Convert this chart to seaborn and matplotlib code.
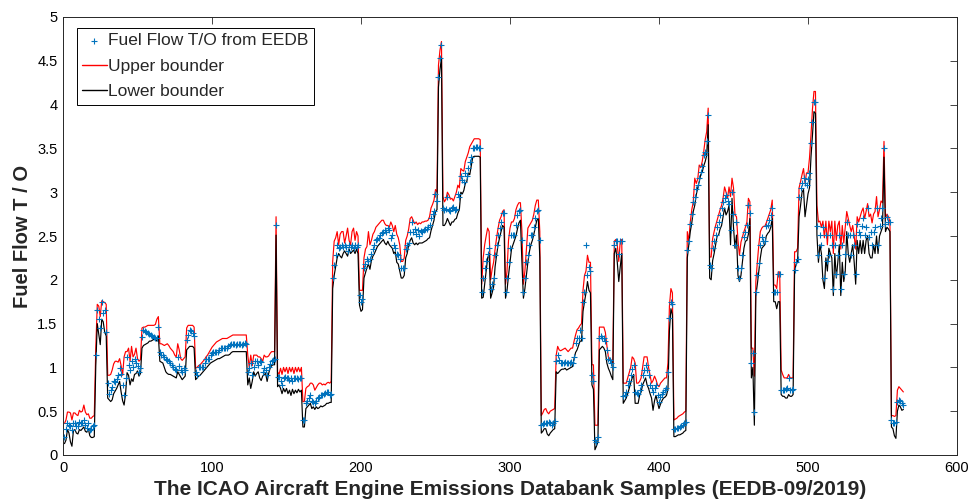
import numpy as np
import pandas as pd
import matplotlib
matplotlib.use("Agg")
import matplotlib.pyplot as plt
import seaborn as sns
from matplotlib.ticker import MultipleLocator, FuncFormatter

# ---------------- data ----------------
fuel_flow = [
    # 1-21
    0.21,0.30,0.36,0.34,0.33,0.29,0.36,0.37,0.33,0.33,0.38,0.36,0.36,0.40,0.34,0.31,0.37,0.28,0.30,0.33,0.34,
    # 22-29
    1.14,1.65,1.55,1.45,1.75,1.62,1.66,1.40,
    # 30-52
    0.82,0.70,0.74,0.78,0.84,0.83,0.87,0.91,0.99,0.93,0.80,0.68,0.88,1.12,1.03,0.97,1.07,1.00,1.10,1.05,1.02,0.95,0.99,
    # 53-64
    1.35,1.43,1.41,1.40,1.39,1.38,1.37,1.36,1.35,1.34,1.33,1.46,
    # 65-82
    1.18,1.14,1.14,1.12,1.10,1.08,1.07,1.05,1.03,1.01,0.98,0.97,1.12,1.02,0.97,0.95,0.99,0.97,
    # 83-88
    1.31,1.37,1.43,1.42,1.39,1.36,
    # 89-123
    0.95,0.91,1.00,1.01,1.01,1.01,1.05,1.10,1.10,1.10,1.14,1.17,1.18,1.18,1.18,1.18,1.20,1.22,1.22,1.22,
    1.22,1.22,1.24,1.26,1.27,1.27,1.27,1.26,1.27,1.27,1.27,1.26,1.27,1.28,1.27,
    # 124-142
    0.95,0.99,1.05,0.91,1.00,1.07,1.07,1.03,1.07,1.06,0.95,0.99,0.97,0.91,1.01,1.04,1.07,1.08,1.10,
    # 143
    2.63,
    # 144-160
    0.89,0.89,0.84,0.80,0.88,0.89,0.88,0.88,0.86,0.88,0.85,0.88,0.88,0.88,0.87,0.88,0.88,
    # 161-162
    0.40,0.40,
    # 163-180
    0.59,0.62,0.65,0.68,0.62,0.60,0.59,0.62,0.65,0.66,0.68,0.69,0.70,0.71,0.72,0.72,0.68,0.70,
    # 181-198
    2.02,2.17,2.28,2.40,2.36,2.38,2.40,2.37,2.40,2.38,2.33,2.40,2.38,2.40,2.36,2.40,2.38,2.40,
    # 199-201
    1.83,1.75,1.78,
    # 202-226
    2.13,2.18,2.24,2.22,2.24,2.30,2.35,2.40,2.45,2.47,2.48,2.51,2.53,2.55,2.57,2.55,2.59,2.57,2.48,2.51,
    2.40,2.36,2.30,2.28,2.24,
    # 227-229
    2.13,2.13,2.13,
    # 230-234
    2.35,2.40,2.42,2.55,2.66,
    # 235-246
    2.55,2.58,2.52,2.57,2.50,2.56,2.55,2.57,2.58,2.58,2.60,2.62,
    # 247-251
    2.70,2.75,2.78,2.98,2.90,
    # 252-254
    4.32,4.53,4.68,
    # 255-266
    2.82,2.80,2.81,2.95,2.80,2.78,2.82,2.83,2.80,2.81,2.98,2.95,
    # 267-274
    3.18,3.14,3.12,3.22,3.18,3.28,3.35,3.40,
    # 275-280
    3.50,3.51,3.52,3.52,3.51,3.50,
    # 281-320
    1.86,2.02,2.13,2.22,2.30,2.36,
    1.90,1.95,2.02,2.28,2.40,2.51,2.59,2.66,2.76,2.76,
    1.86,2.02,2.20,2.36,2.51,2.51,2.51,2.62,2.74,2.78,2.80,2.45,
    1.86,2.02,2.20,2.28,2.40,2.51,2.51,2.60,2.70,2.78,2.80,2.45,
    # 321-330
    0.34,0.35,0.36,0.36,0.37,0.38,0.37,0.34,0.36,0.39,
    # 331-342
    1.07,1.14,1.08,1.05,1.05,1.05,1.06,1.05,1.05,1.05,1.06,1.05,
    # 343-348
    1.12,1.28,1.33,1.33,1.43,1.33,
    # 349-354
    1.75,1.86,2.40,2.05,2.15,2.10,
    # 355-356
    0.91,0.84,
    # 357-359
    0.17,0.15,0.21,
    # 360-369
    1.33,1.36,1.34,1.33,1.30,1.20,1.10,1.08,1.05,1.00,
    # 370-375
    2.40,2.44,2.44,2.30,2.44,2.44,
    # 376-405
    0.67,0.69,0.72,0.80,0.85,0.91,0.98,1.03,0.72,0.71,0.70,0.74,0.80,0.91,0.97,1.03,0.97,0.91,0.80,0.76,
    0.72,0.76,0.80,0.68,0.61,0.66,0.70,0.72,0.74,0.76,
    # 406-409
    0.95,1.56,1.75,1.72,
    # 410-418
    0.30,0.30,0.31,0.31,0.32,0.33,0.34,0.36,0.38,
    # 419-433
    2.34,2.44,2.64,2.75,2.89,2.95,3.04,3.08,3.16,3.23,3.30,3.42,3.46,3.58,3.88,
    # 434-435
    2.17,2.13,
    # 436-461
    2.36,2.44,2.51,2.60,2.66,2.74,2.82,2.89,2.93,2.97,2.90,2.87,2.57,3.00,2.75,2.40,2.66,2.13,2.02,2.13,
    2.28,2.49,2.55,2.63,2.85,2.76,
    # 462-464
    1.05,1.16,0.49,
    # 465-476
    1.86,2.05,2.19,2.40,2.49,2.44,2.44,2.61,2.63,2.68,2.74,2.82,
    # 477-481
    1.86,1.86,1.86,2.07,2.07,
    # 482-490
    0.74,0.74,0.74,0.75,0.76,0.88,0.74,0.74,0.75,
    # 491-501
    2.11,2.20,2.24,2.95,3.05,3.10,3.16,3.10,3.08,3.15,3.22,
    # 502-505
    3.56,3.80,4.03,4.03,
    # 506-550
    2.61,2.28,2.51,2.40,2.60,2.02,2.51,2.21,2.28,2.51,2.40,1.90,2.40,2.07,2.28,2.51,1.90,2.40,2.07,2.30,
    2.66,2.51,2.51,2.28,2.51,2.40,2.07,2.64,2.55,2.51,2.61,2.70,2.51,2.60,2.82,2.49,2.55,2.40,2.55,2.60,
    2.82,2.40,2.61,2.70,2.82,
    # 551-555
    3.50,2.64,2.72,2.66,2.66,
    # 556-564
    0.40,0.36,0.36,0.38,0.60,0.63,0.62,0.59,0.57,
]

upper_bound = [
    0.36,0.40,0.49,0.49,0.48,0.40,0.48,0.48,0.46,0.45,0.51,0.49,0.50,0.57,0.49,0.46,0.47,0.42,0.42,0.44,0.45,
    1.22,1.72,1.70,1.58,1.76,1.75,1.74,1.72,
    0.91,0.91,0.92,0.97,1.04,1.07,1.07,1.06,1.10,1.02,0.91,1.12,1.18,1.18,1.22,1.07,1.24,1.12,1.15,1.22,1.10,1.07,1.09,
    1.45,1.46,1.46,1.47,1.48,1.48,1.48,1.48,1.48,1.49,1.55,1.58,
    1.27,1.27,1.26,1.25,1.26,1.27,1.25,1.22,1.20,1.18,1.14,1.12,1.27,1.20,1.10,1.08,1.10,1.12,
    1.45,1.48,1.48,1.48,1.48,1.46,
    0.99,1.00,1.02,1.03,1.05,1.07,1.09,1.12,1.14,1.17,1.20,1.23,1.25,1.27,1.29,1.30,1.31,1.32,1.33,1.33,
    1.33,1.33,1.34,1.35,1.36,1.37,1.37,1.37,1.37,1.37,1.37,1.37,1.37,1.37,1.37,
    1.14,1.00,1.14,1.02,1.14,1.14,1.14,1.12,1.12,1.10,1.07,1.14,1.12,1.12,1.13,1.16,1.18,1.18,1.18,
    2.72,
    0.95,0.92,0.99,0.92,1.00,0.95,1.00,0.93,1.00,0.95,1.00,0.93,1.00,0.95,1.00,0.95,1.00,
    0.61,0.61,
    0.76,0.78,0.79,0.82,0.82,0.80,0.74,0.77,0.80,0.82,0.82,0.80,0.81,0.80,0.82,0.83,0.82,0.84,
    2.21,2.44,2.48,2.55,2.40,2.52,2.55,2.55,2.42,2.50,2.59,2.45,2.40,2.55,2.59,2.45,2.55,2.50,
    1.88,1.88,1.88,
    2.25,2.35,2.38,2.55,2.40,2.45,2.52,2.55,2.60,2.62,2.64,2.66,2.68,2.68,2.64,2.62,2.62,2.60,2.66,2.62,
    2.55,2.62,2.52,2.48,2.40,
    2.21,2.21,2.25,
    2.45,2.50,2.58,2.70,2.72,
    2.68,2.64,2.66,2.63,2.65,2.64,2.66,2.66,2.67,2.67,2.68,2.72,
    2.82,2.86,2.91,3.03,3.00,
    4.45,4.62,4.72,
    2.95,2.89,2.92,3.00,2.97,2.92,2.93,2.90,2.95,3.00,3.08,3.05,
    3.27,3.25,3.24,3.35,3.40,3.45,3.52,3.55,
    3.58,3.61,3.61,3.61,3.61,3.60,
    1.95,2.25,2.40,2.50,2.59,2.55,
    2.00,2.12,2.20,2.35,2.48,2.59,2.68,2.72,2.78,2.80,
    1.95,2.10,2.45,2.59,2.66,2.66,2.70,2.80,2.85,2.88,2.88,2.55,
    1.95,2.10,2.35,2.59,2.62,2.65,2.68,2.75,2.85,2.91,2.91,2.55,
    0.45,0.48,0.52,0.53,0.49,0.47,0.50,0.51,0.52,0.53,
    1.14,1.24,1.20,1.19,1.20,1.21,1.22,1.20,1.18,1.20,1.22,1.22,
    1.30,1.37,1.43,1.45,1.48,1.50,
    1.88,2.05,2.10,2.28,2.20,2.20,
    1.03,1.03,
    0.34,0.34,0.34,
    1.46,1.46,1.46,1.46,1.40,1.25,1.12,1.10,1.08,1.05,
    2.44,2.46,2.40,2.21,2.44,2.46,
    0.82,0.82,0.82,0.88,0.94,1.00,1.12,1.10,1.05,0.82,0.82,0.84,0.88,1.00,1.12,1.12,1.12,1.00,0.91,0.82,
    0.85,0.90,0.86,0.80,0.78,0.82,0.84,0.86,0.88,0.88,
    1.05,1.70,1.90,1.85,
    0.40,0.41,0.42,0.44,0.45,0.46,0.47,0.49,0.50,
    2.55,2.44,2.66,2.80,2.89,3.16,3.10,3.15,3.31,3.28,3.35,3.46,3.60,3.69,3.96,
    2.26,2.26,
    2.47,2.55,2.62,2.68,2.74,2.80,2.85,2.93,3.06,3.00,2.93,3.06,2.95,3.16,3.05,2.74,2.72,2.45,2.28,2.43,
    2.49,2.55,2.60,2.66,2.93,2.89,
    1.22,1.22,0.90,
    1.98,2.20,2.40,2.55,2.59,2.61,2.61,2.65,2.70,2.75,2.80,2.91,
    1.94,1.94,1.90,2.09,2.09,
    0.97,0.92,0.88,0.88,0.88,0.92,0.88,0.88,0.88,
    2.32,2.32,2.36,3.05,3.12,3.20,3.27,3.10,3.22,3.22,3.39,
    3.65,3.95,4.15,4.15,
    2.85,2.66,2.67,2.60,2.67,2.48,2.67,2.40,2.67,2.55,2.67,2.30,2.67,2.45,2.62,2.67,2.35,2.62,2.42,2.60,
    2.78,2.70,2.62,2.55,2.62,2.50,2.35,2.72,2.66,2.72,2.78,2.82,2.70,2.78,2.87,2.72,2.75,2.65,2.75,2.78,
    2.95,2.72,2.80,2.90,2.88,
    3.58,2.70,2.75,2.72,2.66,
    0.45,0.45,0.44,0.45,0.74,0.78,0.76,0.74,0.72,
]

lower_bound = [
    0.13,0.17,0.29,0.25,0.15,0.10,0.28,0.29,0.25,0.24,0.29,0.28,0.30,0.32,0.27,0.26,0.30,0.22,0.20,0.20,0.21,
    1.02,1.50,1.38,1.26,1.55,1.52,1.40,1.36,
    0.65,0.63,0.61,0.63,0.70,0.73,0.76,0.80,0.84,0.72,0.62,0.57,0.70,0.94,0.91,0.80,0.87,0.84,0.92,0.93,0.96,0.90,0.93,
    1.22,1.25,1.26,1.27,1.28,1.30,1.30,1.31,1.32,1.32,1.30,1.36,
    1.07,1.06,1.05,1.00,0.95,0.93,0.92,0.92,0.91,0.90,0.89,0.88,0.95,0.92,0.89,0.86,0.88,0.90,
    1.20,1.22,1.24,1.24,1.24,1.22,
    0.86,0.88,0.90,0.91,0.93,0.95,0.97,0.99,1.01,1.03,1.05,1.06,1.07,1.08,1.09,1.10,1.10,1.11,1.12,1.13,
    1.14,1.14,1.14,1.15,1.17,1.18,1.18,1.18,1.18,1.18,1.18,1.18,1.18,1.18,1.18,
    0.80,0.88,0.76,0.84,0.95,0.90,0.93,0.95,0.88,0.85,0.90,0.92,0.93,0.84,0.93,0.99,1.02,1.03,1.03,
    2.51,
    0.78,0.80,0.76,0.70,0.76,0.72,0.76,0.70,0.74,0.68,0.75,0.70,0.74,0.71,0.75,0.72,0.74,
    0.32,0.32,
    0.53,0.55,0.57,0.59,0.53,0.55,0.52,0.55,0.53,0.54,0.56,0.55,0.56,0.57,0.59,0.59,0.60,0.60,
    1.90,2.05,2.15,2.25,2.30,2.27,2.25,2.30,2.33,2.30,2.27,2.35,2.30,2.32,2.34,2.30,2.35,2.30,
    1.71,1.64,1.66,
    2.02,2.08,2.14,2.18,2.12,2.22,2.27,2.30,2.34,2.38,2.40,2.42,2.44,2.46,2.42,2.40,2.44,2.40,2.38,2.36,
    2.30,2.32,2.20,2.18,2.10,
    2.02,2.02,2.05,
    2.25,2.30,2.40,2.45,2.48,
    2.42,2.40,2.42,2.40,2.42,2.42,2.42,2.43,2.44,2.45,2.47,2.48,
    2.56,2.62,2.68,2.78,2.80,
    4.20,4.40,4.53,
    2.62,2.62,2.65,2.70,2.66,2.62,2.66,2.66,2.69,2.70,2.76,2.80,
    3.00,2.98,3.02,3.10,3.12,3.22,3.20,3.30,
    3.40,3.41,3.41,3.41,3.41,3.40,
    1.79,1.80,1.95,2.10,2.25,2.30,
    1.79,1.85,1.92,2.15,2.28,2.40,2.48,2.55,2.62,2.60,
    1.79,1.88,2.05,2.20,2.35,2.40,2.45,2.50,2.58,2.65,2.68,2.20,
    1.79,1.90,2.05,2.20,2.32,2.40,2.45,2.52,2.60,2.68,2.70,2.25,
    0.25,0.27,0.30,0.30,0.24,0.22,0.25,0.27,0.29,0.30,
    0.95,0.93,0.95,0.97,0.98,0.98,0.99,0.97,0.98,0.99,1.00,1.01,
    1.10,1.17,1.20,1.25,1.30,1.30,
    1.64,1.75,1.85,1.98,1.88,1.85,
    0.80,0.75,
    0.06,0.10,0.15,
    1.20,1.22,1.24,1.22,1.18,1.05,0.99,0.95,0.90,0.86,
    2.30,2.36,2.20,1.98,2.15,2.30,
    0.59,0.62,0.65,0.70,0.76,0.82,0.88,0.92,0.59,0.59,0.59,0.68,0.72,0.80,0.84,0.88,0.80,0.76,0.70,0.65,
    0.51,0.62,0.68,0.60,0.53,0.58,0.62,0.65,0.66,0.68,
    0.75,1.42,1.67,1.60,
    0.21,0.21,0.22,0.23,0.23,0.24,0.25,0.27,0.28,
    2.25,2.40,2.55,2.65,2.78,2.85,2.97,3.05,3.12,3.20,3.23,3.30,3.35,3.42,3.77,
    2.02,2.00,
    2.22,2.30,2.40,2.50,2.51,2.58,2.62,2.72,2.82,2.74,2.78,2.85,2.40,2.93,2.60,2.36,2.51,2.05,1.98,2.05,
    2.21,2.36,2.44,2.45,2.52,2.70,
    0.88,1.00,0.34,
    1.82,1.95,2.10,2.25,2.36,2.38,2.40,2.50,2.53,2.55,2.60,2.70,
    1.75,1.75,1.67,1.75,1.75,
    0.69,0.67,0.67,0.65,0.65,0.69,0.67,0.67,0.69,
    2.09,2.18,2.20,2.72,2.85,3.00,3.03,2.72,2.85,2.98,3.05,
    3.40,3.65,3.92,3.90,
    2.51,2.20,2.40,2.30,2.00,1.90,2.25,2.10,2.36,2.30,2.25,1.82,2.30,2.02,2.20,2.40,1.82,2.20,1.98,2.10,
    2.55,2.30,2.20,2.30,2.40,2.20,1.95,2.45,2.30,2.45,2.30,2.45,2.30,2.45,2.50,2.30,2.25,2.25,2.40,2.30,
    2.50,2.30,2.50,2.55,2.60,
    3.40,2.55,2.60,2.58,2.55,
    0.32,0.30,0.22,0.19,0.50,0.57,0.55,0.51,0.52,
]

label_fuel = "Fuel Flow T/O from EEDB"
label_upper = "Upper bounder"
label_lower = "Lower bounder"
x_label = "The ICAO Aircraft Engine Emissions Databank Samples (EEDB-09/2019)"
y_label = "Fuel Flow T / O"

n = min(len(fuel_flow), len(upper_bound), len(lower_bound))
df = pd.DataFrame({
    "sample": np.arange(1, n + 1),
    "fuel": fuel_flow[:n],
    "upper": upper_bound[:n],
    "lower": lower_bound[:n],
})

# ---------------- plotting ----------------
sns.set_theme(style="white")
plt.rcParams["font.family"] = ["Liberation Sans", "DejaVu Sans"]

W, H = 970, 500
fig = plt.figure(figsize=(W / 100, H / 100), dpi=100)
ax = fig.add_axes([63 / W, (H - 455) / H, (957 - 63) / W, (455 - 17) / H])

sns.lineplot(data=df, x="sample", y="upper", ax=ax, color="#FF0000", linewidth=0.85,
             estimator=None, sort=False, label=label_upper, zorder=2)
sns.lineplot(data=df, x="sample", y="lower", ax=ax, color="#000000", linewidth=0.85,
             estimator=None, sort=False, label=label_lower, zorder=2)
sns.scatterplot(data=df, x="sample", y="fuel", ax=ax, marker="+", color="#0072BD",
                s=22, linewidth=0.8, label=label_fuel, zorder=3)

ax.set_xlim(0, 600)
ax.set_ylim(0, 5)
ax.xaxis.set_major_locator(MultipleLocator(100))
ax.yaxis.set_major_locator(MultipleLocator(0.5))
fmt = FuncFormatter(lambda v, p: f"{v:g}")
ax.xaxis.set_major_formatter(fmt)
ax.yaxis.set_major_formatter(fmt)
ax.tick_params(direction="in", top=True, right=True, length=5, width=0.6,
               labelsize=10.5, colors="#262626", labelcolor="#000000", pad=4)
for s in ax.spines.values():
    s.set_linewidth(0.7)
    s.set_color("#262626")
ax.grid(False)

ax.set_xlabel(x_label, fontsize=15, fontweight="bold", labelpad=4)
ax.set_ylabel(y_label, fontsize=14.5, fontweight="bold", labelpad=4)

handles, labels = ax.get_legend_handles_labels()
order = [labels.index(label_fuel), labels.index(label_upper), labels.index(label_lower)]
leg = ax.legend([handles[i] for i in order], [labels[i] for i in order],
                loc="upper left", bbox_to_anchor=(0.0157, 0.975), borderaxespad=0,
                fontsize=12.5, frameon=True, fancybox=False, framealpha=1,
                edgecolor="#000000", handlelength=1.4, handletextpad=0.1,
                labelspacing=0.6, borderpad=0.3)
leg.get_frame().set_linewidth(0.7)
for line in leg.get_lines():
    line.set_linewidth(1.0)

fig.savefig("out.png", dpi=100)
